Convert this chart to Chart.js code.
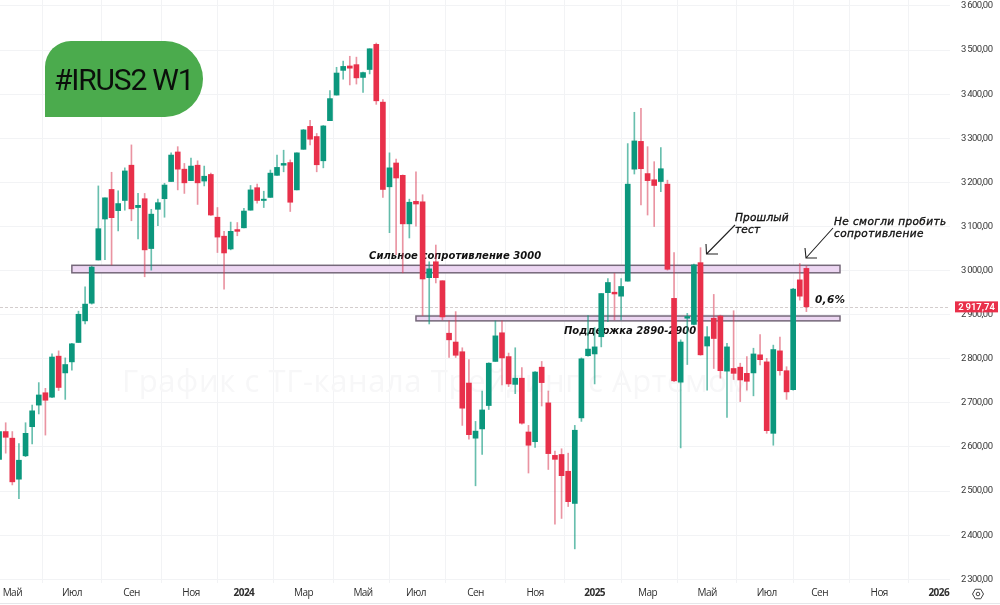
<!DOCTYPE html>
<html lang="ru">
<head>
<meta charset="utf-8">
<title>#IRUS2 W1</title>
<style>html,body{margin:0;padding:0;background:#fff}canvas{display:block}</style>
<script src="https://cdn.jsdelivr.net/npm/chart.js@4/dist/chart.umd.min.js"></script>
</head>
<body>
<canvas id="c" width="1000" height="605" style="width:1000px;height:605px"></canvas>
<script>
const open = [2572,2635,2620,2527,2580,2646,2695,2723,2713,2806,2768,2793,2837,2886,2926,3024,3117,3184,3136,3159,3239,3143,3163,3050,3139,3163,3202,3269,3230,3204,3239,3203,3218,3121,3078,3049,3093,3097,3137,3188,3159,3166,3216,3239,3245,3183,3275,3327,3304,3249,3340,3398,3454,3464,3467,3438,3456,3513,3382,3190,3244,3216,3106,3157,3156,2984,3020,2977,2858,2838,2816,2745,2620,2641,2694,2794,2859,2805,2742,2756,2634,2612,2781,2700,2581,2583,2545,2472,2666,2807,2811,2850,2950,2951,2942,2976,3230,3293,3220,3206,3202,3196,2937,2747,2892,2878,3018,2829,2892,2897,2772,2778,2781,2767,2768,2809,2793,2631,2818,2773,2730,2979,3005];
const high = [2636,2655,2635,2608,2655,2695,2746,2733,2811,2818,2802,2835,2908,2963,3010,3192,3165,3223,3181,3233,3285,3175,3175,3139,3162,3198,3267,3281,3243,3255,3249,3237,3221,3143,3089,3110,3109,3141,3193,3196,3180,3228,3262,3273,3251,3267,3320,3341,3311,3329,3408,3461,3475,3486,3484,3450,3503,3516,3388,3267,3253,3217,3162,3224,3172,3020,3058,2977,2886,2907,2825,2798,2658,2727,2791,2886,2886,2813,2825,2780,2649,2771,2794,2727,2591,2596,2586,2649,2802,2898,2871,2948,2982,2994,2982,3288,3359,3368,3281,3247,3279,3205,3041,2843,2903,3015,3052,2873,2946,2899,2835,2909,2790,2805,2824,2855,2801,2831,2849,2782,2960,3016,3011];
const low = [2570,2586,2514,2483,2578,2607,2675,2627,2712,2728,2708,2774,2837,2879,2924,3024,3025,3013,3090,3137,3113,3072,2986,3001,3102,3121,3202,3183,3175,3204,3150,3192,3125,3041,2958,3047,3079,3097,3137,3153,3143,3166,3216,3224,3134,3183,3275,3285,3224,3233,3340,3398,3434,3421,3423,3404,3446,3377,3166,3086,3036,2995,3074,3101,2898,2879,2972,2888,2803,2803,2649,2618,2512,2583,2685,2794,2741,2737,2721,2652,2541,2599,2693,2549,2425,2438,2465,2369,2658,2806,2743,2827,2884,2888,2888,2976,3219,3149,3126,3100,3179,3001,2748,2598,2787,2877,2808,2729,2778,2756,2667,2753,2703,2729,2716,2786,2631,2604,2763,2708,2729,2933,2907];
const close = [2635,2622,2521,2570,2631,2682,2718,2706,2804,2735,2787,2834,2901,2924,3008,3095,3165,3120,3152,3226,3140,3148,3047,3128,3154,3194,3262,3230,3199,3237,3199,3214,3126,3076,3040,3089,3089,3135,3183,3159,3162,3221,3234,3243,3155,3267,3319,3298,3240,3328,3390,3448,3463,3459,3437,3449,3503,3385,3184,3233,3210,3106,3155,3151,2981,3004,2984,2895,2843,2808,2688,2628,2636,2684,2790,2852,2802,2743,2756,2654,2604,2770,2746,2585,2572,2535,2476,2638,2800,2822,2827,2948,2973,2947,2964,3196,3294,3231,3204,3193,3231,3003,2750,2838,2896,3013,2809,2850,2846,2773,2827,2767,2752,2749,2811,2798,2637,2821,2773,2725,2958,2942,2917.74];
const firstWeek = -1;
const xTickWeeks = [1,10,19,28,36,45,54,62,71,80,89,97,106,115,123,132,141];
const xTickLabels = ["Май","Июл","Сен","Ноя","2024","Мар","Май","Июл","Сен","Ноя","2025","Мар","Май","Июл","Сен","Ноя","2026"];
const yTicks = [3600,3500,3400,3300,3200,3100,3000,2900,2800,2700,2600,2500,2400,2300];
const lastPrice = 2917.74;

const GREEN = '#0b977d', RED = '#e8304a';
const weeks = open.map((_, i) => firstWeek + i);
const colorOf = i => close[i] >= open[i] ? GREEN : RED;
const wickOf = i => close[i] >= open[i] ? 'rgba(11,151,125,0.62)' : 'rgba(216,60,85,0.55)';
const money = v => {
  const [a, b] = v.toFixed(2).split('.');
  return a.slice(0, -3) + '\u2009' + a.slice(-3) + ',' + b;
};
const UI = 'Roboto, sans-serif';
const NOTE = '"DejaVu Sans", sans-serif';

function label(ctx, text, x, y, font, spacing, color, heavy) {
  ctx.font = font;
  ctx.letterSpacing = spacing || '0px';
  ctx.fillStyle = color || '#111';
  ctx.textAlign = 'left';
  ctx.textBaseline = 'alphabetic';
  ctx.fillText(text, x, y);
  if (heavy) { ctx.strokeStyle = color || '#111'; ctx.lineWidth = heavy; ctx.strokeText(text, x, y); }
  ctx.letterSpacing = '0px';
}
function arrow(ctx, x1, y1, x2, y2, ax, ay, bx, by) {
  ctx.beginPath();
  ctx.moveTo(x1, y1); ctx.lineTo(x2, y2);
  ctx.moveTo(ax, ay); ctx.lineTo(x2, y2); ctx.lineTo(bx, by);
  ctx.strokeStyle = '#222'; ctx.lineWidth = 1.1; ctx.stroke();
}
const flat = s => { s.paddingTop = s.paddingBottom = s.paddingLeft = s.paddingRight = 0; };

const backdrop = {
  id: 'backdrop',
  beforeDraw(chart) { chart.ctx.letterSpacing = '-0.55px'; },
  beforeDatasetsDraw(chart) {
    const { ctx, scales: { x, y }, chartArea: a } = chart;
    ctx.letterSpacing = '0px';
    ctx.save();
    label(ctx, 'График с ТГ-канала Трейдинг с Артёмом', 122, 392, '31px "Open Sans", sans-serif', '0.6px', '#f7f7f8');
    ctx.setLineDash([3, 2]);
    ctx.strokeStyle = '#d3cdcd'; ctx.lineWidth = 1;
    ctx.beginPath();
    ctx.moveTo(a.left, Math.round(y.getPixelForValue(lastPrice)) + .5);
    ctx.lineTo(a.right, Math.round(y.getPixelForValue(lastPrice)) + .5);
    ctx.stroke();
    ctx.setLineDash([]);
    [[10, 3012, 2995], [62, 2897, 2886]].forEach(([w1, hi, lo]) => {
      const X = x.getPixelForValue(w1), Y = y.getPixelForValue(hi);
      const W = 840 - X, H = y.getPixelForValue(lo) - Y;
      ctx.fillStyle = '#ecd6f2';
      ctx.strokeStyle = '#75687a'; ctx.lineWidth = 1.5;
      ctx.fillRect(X, Y, W, H);
      ctx.strokeRect(X, Y, W, H);
    });
    const f = 'italic bold 10px ' + NOTE;
    label(ctx, 'Сильное сопротивление 3000', 369, 259, f, '0.05px');
    label(ctx, 'Поддержка 2890-2900', 564, 334, f, '0px');
    ctx.restore();
  },
  afterDraw(chart) {
    const { ctx, scales: { y } } = chart;
    ctx.save();
    ctx.fillStyle = '#4bab4d';
    ctx.beginPath();
    ctx.roundRect(45, 41, 158, 76, [26, 38, 38, 0]);
    ctx.fill();
    label(ctx, '#IRUS2 W1', 54, 90, '30px ' + UI, '-1.2px', '#0b0f0b');
    const f = 'italic 10.5px ' + NOTE;
    label(ctx, 'Прошлый', 735, 221, f, '0.2px', '#111', 0.35);
    label(ctx, 'тест', 735, 233, f, '0.2px', '#111', 0.35);
    label(ctx, 'Не смогли пробить', 834, 225, f, '0.4px', '#111', 0.35);
    label(ctx, 'сопротивление', 834, 237, f, '0.4px', '#111', 0.35);
    label(ctx, '0,6%', 815, 303, 'italic bold 10.5px ' + NOTE, '0.3px');
    arrow(ctx, 735, 225, 706.5, 254, 706, 244, 718, 254);
    arrow(ctx, 833, 228, 806, 258, 805, 248, 817, 258);
    const py = y.getPixelForValue(lastPrice);
    ctx.fillStyle = '#e9304a';
    ctx.fillRect(955, py - 5.5, 43, 11);
    ctx.textAlign = 'center'; ctx.textBaseline = 'middle';
    ctx.font = '600 9.5px ' + UI; ctx.fillStyle = '#fff';
    ctx.fillText(money(lastPrice), 976.5, py + .5);
    const cx = 978, cy = 594, r = 5.5;
    ctx.strokeStyle = '#444'; ctx.lineWidth = 1;
    ctx.beginPath();
    for (let k = 0; k < 6; k++) {
      const t = Math.PI / 3 * k;
      ctx[k ? 'lineTo' : 'moveTo'](cx + r * Math.cos(t), cy + r * Math.sin(t));
    }
    ctx.closePath(); ctx.stroke();
    ctx.beginPath(); ctx.arc(cx, cy, 1.8, 0, Math.PI * 2); ctx.stroke();
    ctx.strokeStyle = '#e6e7ea';
    ctx.beginPath(); ctx.moveTo(0, 603.5); ctx.lineTo(1000, 603.5); ctx.stroke();
    ctx.restore();
  }
};

new Chart(document.getElementById('c'), {
  type: 'bar',
  data: {
    datasets: [
      {
        label: 'Тени', order: 2, grouped: false, barThickness: 1,
        data: weeks.map((w, i) => ({ x: w, y: [low[i], high[i]] })),
        backgroundColor: weeks.map((_, i) => wickOf(i))
      },
      {
        label: 'Тела', order: 1, grouped: false, barThickness: 5,
        data: weeks.map((w, i) => ({ x: w, y: [open[i], close[i]] })),
        backgroundColor: weeks.map((_, i) => colorOf(i))
      }
    ]
  },
  options: {
    responsive: false,
    devicePixelRatio: 1,
    animation: false,
    layout: { padding: 0 },
    plugins: { legend: { display: false }, tooltip: { enabled: false }, title: { display: false } },
    scales: {
      x: {
        type: 'linear', offset: false, min: -0.86, max: 142.7,
        afterBuildTicks(s) { s.ticks = xTickWeeks.map(v => ({ value: v })); },
        afterFit(s) { s.height = 22; flat(s); },
        border: { display: false },
        grid: { color: '#f2f3f5', lineWidth: 1, drawTicks: false },
        ticks: {
          autoSkip: false, maxRotation: 0, padding: 4, color: '#2e2e2e',
          font: c => ({ family: '"Open Sans", sans-serif', size: 10, weight: /^\d/.test(xTickLabels[c.index] || '') ? '700' : '400' }),
          callback: (v, i) => xTickLabels[i]
        }
      },
      y: {
        type: 'linear', position: 'right', min: 2291.6, max: 3613.6,
        afterBuildTicks(s) { s.ticks = yTicks.map(v => ({ value: v })); },
        afterFit(s) { s.width = 50; flat(s); },
        border: { display: false },
        grid: { color: '#f2f3f5', lineWidth: 1, drawTicks: false },
        ticks: {
          padding: 11, color: '#3a3a3a', align: 'center',
          font: { family: 'Roboto, sans-serif', size: 9.5 },
          callback: v => money(v)
        }
      }
    }
  },
  plugins: [backdrop]
});
</script>
</body>
</html>
